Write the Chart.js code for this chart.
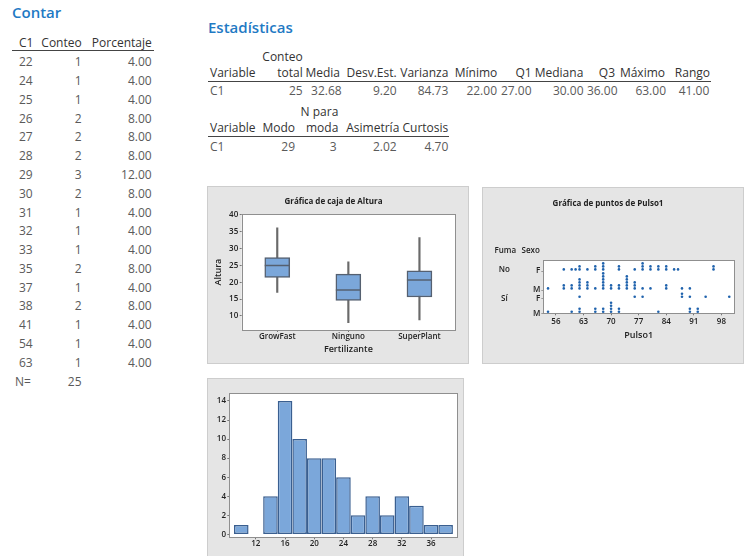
<!DOCTYPE html>
<html lang="es">
<head>
<meta charset="utf-8">
<title>Contar / Estadísticas</title>
<script src="https://cdn.jsdelivr.net/npm/chart.js@4.4.1/dist/chart.umd.min.js"></script>
<style>
  body { margin: 0; width: 744px; height: 556px; overflow: hidden; background: #fff; position: relative; font-family: 'Open Sans', sans-serif; }
  .txt { position: absolute; white-space: nowrap; font-size: 12px; line-height: 16px; color: #5a5a5a; }
  .head { color: #333; }
  .section { position: absolute; white-space: nowrap; font-size: 15px; line-height: 20px; font-weight: 600; color: #1f7ac4; }
  .rule { position: absolute; height: 1px; background: #444; }
  .panel { position: absolute; background: #e5e5e5; box-shadow: inset 0 0 0 1px #cdcdcd; overflow: hidden; }
  .panel canvas { position: absolute; left: 0; top: 0; }
</style>
</head>
<body>

<div class="panel" style="left:207px; top:186px; width:262px; height:178px;">
  <canvas id="boxChart" width="262" height="178"></canvas>
</div>
<div class="panel" style="left:482px; top:187px; width:262px; height:177px;">
  <canvas id="dotChart" width="262" height="177"></canvas>
</div>
<div class="panel" style="left:207px; top:378px; width:257px; height:200px;">
  <canvas id="histChart" width="257" height="200"></canvas>
</div>

<script>
// ---- Contar table ----
const countC1 = ['22', '24', '25', '26', '27', '28', '29', '30', '31', '32', '33', '35', '37', '38', '41', '54', '63'];
const countN = ['1', '1', '1', '2', '2', '2', '3', '2', '1', '1', '1', '2', '1', '2', '1', '1', '1'];
const countPct = ['4.00', '4.00', '4.00', '8.00', '8.00', '8.00', '12.00', '8.00', '4.00', '4.00', '4.00', '8.00', '4.00', '8.00', '4.00', '4.00', '4.00'];
const countTotal = '25';

// ---- Estadísticas ----
const statHead1 = ['Variable', 'total', 'Media', 'Desv.Est.', 'Varianza', 'Mínimo', 'Q1', 'Mediana', 'Q3', 'Máximo', 'Rango'];
const statRow1 = ['C1', '25', '32.68', '9.20', '84.73', '22.00', '27.00', '30.00', '36.00', '63.00', '41.00'];
const statHead2 = ['Variable', 'Modo', 'moda', 'Asimetría', 'Curtosis'];
const statRow2 = ['C1', '29', '3', '2.02', '4.70'];

// ---- Box plot (Altura by Fertilizante) ----
const fertilizers = ['GrowFast', 'Ninguno', 'SuperPlant'];
const whiskerLow = [17.0, 8.0, 8.8];
const q1 = [21.4, 14.6, 15.6];
const medians = [25.0, 17.7, 20.7];
const q3 = [27.3, 22.4, 23.4];
const whiskerHigh = [36.2, 26.1, 33.3];
const boxTicks = [10, 15, 20, 25, 30, 35, 40];

// ---- Dot plot (Pulso1 by Fuma / Sexo) ----
const pulseNoF = [58, 60, 61, 62, 62, 64, 66, 66, 68, 68, 68, 72, 72, 76, 78, 78, 78, 80, 80, 82, 82, 84, 84, 86, 87, 96, 96];
const pulseNoM = [54, 58, 58, 60, 60, 62, 62, 62, 62, 64, 64, 64, 66, 68, 68, 68, 68, 68, 68, 70, 70, 72, 72,
                  74, 74, 74, 74, 74, 76, 76, 76, 78, 80, 84, 84, 88, 90];
const pulseSiF = [62, 76, 78, 88, 88, 90, 94, 100];
const pulseSiM = [54, 60, 62, 62, 66, 66, 68, 68, 70, 70, 70, 70, 72, 72, 82, 90, 90, 92, 92];
const pulseTicks = [56, 63, 70, 77, 84, 91, 98];

// ---- Histogram ----
const histBins = [10, 12, 14, 16, 18, 20, 22, 24, 26, 28, 30, 32, 34, 36, 38];
const histCounts = [1, 0, 4, 14, 10, 8, 8, 6, 2, 4, 2, 4, 3, 1, 1];
const histTicksX = [12, 16, 20, 24, 28, 32, 36];
const histTicksY = [0, 2, 4, 6, 8, 10, 12, 14];

// ---------- text output ----------
function addText(text, x, y, cls, align) {
  const el = document.createElement('div');
  el.className = cls || 'txt';
  el.textContent = text;
  el.style.top = (y - 8) + 'px';
  if (align === 'right') el.style.right = (744 - x) + 'px';
  else el.style.left = x + 'px';
  document.body.appendChild(el);
  return el;
}
function addRule(x1, x2, y) {
  const el = document.createElement('div');
  el.className = 'rule';
  el.style.left = x1 + 'px';
  el.style.width = (x2 - x1) + 'px';
  el.style.top = y + 'px';
  document.body.appendChild(el);
}

const sec1 = addText('Contar', 12, 12.5, 'section');
sec1.style.top = '2px';
addText('C1', 19, 42.5, 'txt head');
addText('Conteo', 81.7, 42.5, 'txt head', 'right');
addText('Porcentaje', 151.7, 42.5, 'txt head', 'right');
addRule(12, 154, 50);
for (let i = 0; i < countC1.length; i++) {
  const y = 62.3 + i * 18.78;
  addText(countC1[i], 19, y);
  addText(countN[i], 81.5, y, 'txt', 'right');
  addText(countPct[i], 151.7, y, 'txt', 'right');
}
addText('N=', 15, 62.3 + countC1.length * 18.78);
addText(countTotal, 81.5, 62.3 + countC1.length * 18.78, 'txt', 'right');

const sec2 = addText('Estadísticas', 208, 27, 'section');
sec2.style.top = '17px';
const headRight1 = [0, 302.7, 340, 396.7, 448.3, 497.3, 531.7, 583.3, 615, 665, 710];
const dataRight1 = [0, 302.7, 341.7, 396.7, 448.3, 497, 531.5, 583.5, 617.5, 666, 709.3];
addText('Conteo', headRight1[1], 56.7, 'txt head', 'right');
for (let i = 0; i < statHead1.length; i++) {
  if (i === 0) {
    addText(statHead1[i], 210, 73.3, 'txt head');
    addText(statRow1[i], 210, 90.7);
  } else {
    addText(statHead1[i], headRight1[i], 73.3, 'txt head', 'right');
    addText(statRow1[i], dataRight1[i], 90.7, 'txt', 'right');
  }
}
addRule(208, 711, 80.5);

const headRight2 = [0, 295, 338.3, 399.3, 448.3];
const dataRight2 = [0, 295, 336.7, 396.7, 448.3];
addText('N para', headRight2[2], 111.7, 'txt head', 'right');
for (let i = 0; i < statHead2.length; i++) {
  if (i === 0) {
    addText(statHead2[i], 210, 128.3, 'txt head');
    addText(statRow2[i], 210, 146.7);
  } else {
    addText(statHead2[i], headRight2[i], 128.3, 'txt head', 'right');
    addText(statRow2[i], dataRight2[i], 146.7, 'txt', 'right');
  }
}
addRule(208, 449, 135.5);

// ---------- charts ----------
Chart.defaults.font.family = "'Open Sans', sans-serif";
Chart.defaults.color = '#222';

const tickFont = {size: 8, weight: '600'};
const titleFont = {size: 8};
const axisTitleFont = {size: 9, weight: '600'};

// white plot area with grey frame
const plotFrame = {
  id: 'plotFrame',
  beforeDatasetsDraw(chart) {
    const {ctx, chartArea: a} = chart;
    ctx.save();
    ctx.fillStyle = '#fff';
    ctx.fillRect(a.left, a.top, a.right - a.left, a.bottom - a.top);
    ctx.restore();
  },
  afterDraw(chart) {
    const {ctx, chartArea: a} = chart;
    ctx.save();
    ctx.strokeStyle = '#8f8f8f';
    ctx.lineWidth = 1;
    ctx.strokeRect(Math.round(a.left) + 0.5, Math.round(a.top) + 0.5,
      Math.round(a.right - a.left), Math.round(a.bottom - a.top));
    ctx.restore();
  }
};

// Box plot
new Chart(document.getElementById('boxChart'), {
  type: 'bar',
  data: {
    labels: fertilizers,
    datasets: [
      {
        type: 'line',
        data: medians,
        showLine: false,
        pointStyle: 'line',
        pointRadius: 12.5,
        pointBorderWidth: 1.5,
        pointBorderColor: '#556070',
        order: 0
      },
      {
        data: fertilizers.map((f, i) => [q1[i], q3[i]]),
        backgroundColor: '#7ba7da',
        borderColor: '#556070',
        borderWidth: 1.5,
        borderSkipped: false,
        barThickness: 25,
        grouped: false,
        order: 1
      },
      {
        data: fertilizers.map((f, i) => [whiskerLow[i], whiskerHigh[i]]),
        backgroundColor: '#6a6a6a',
        barThickness: 1.5,
        grouped: false,
        order: 2
      }
    ]
  },
  options: {
    responsive: false,
    animation: false,
    layout: {padding: {left: 0, right: 9, top: 0, bottom: 0}},
    plugins: {
      legend: {display: false},
      tooltip: {enabled: false},
      title: {display: true, text: 'Gráfica de caja de Altura', font: titleFont, color: '#222', padding: {top: 10.9, bottom: 7.8}}
    },
    scales: {
      x: {
        offset: true,
        grid: {display: true, drawOnChartArea: false, offset: false, tickLength: 2, color: '#777'},
        border: {display: false},
        ticks: {font: tickFont, padding: 0, color: '#222'},
        title: {display: true, text: 'Fertilizante', font: axisTitleFont, color: '#222', padding: {top: 0, bottom: 9.6}},
        afterFit(s) { s.height = 34; }
      },
      y: {
        min: 5.8,
        max: 40.2,
        afterBuildTicks(s) { s.ticks = boxTicks.map(v => ({value: v})); },
        grid: {display: true, drawOnChartArea: false, tickLength: 2, color: '#777'},
        border: {display: false},
        ticks: {font: tickFont, padding: 1.5, color: '#222'},
        title: {display: true, text: 'Altura', font: axisTitleFont, color: '#222', padding: {top: 5.9, bottom: 0}},
        afterFit(s) { s.width = 34.7; }
      }
    }
  },
  plugins: [plotFrame]
});

// Dot plot
const rowBottoms = {noF: 42.3, noM: 23.3, siF: 15, siM: 0};
function stackDots(values, bottom) {
  const seen = {};
  return values.map(v => {
    const k = seen[v] || 0;
    seen[v] = k + 1;
    return {x: v, y: bottom + 1.6 + k * 3};
  });
}
const dotStyle = {pointRadius: 1.3, pointHoverRadius: 1.3, pointBackgroundColor: '#2063ad', pointBorderWidth: 0};
const rowTickValues = [rowBottoms.siM, rowBottoms.siF, rowBottoms.noM, rowBottoms.noF];
const rowTickLabels = ['M', 'F', 'M', 'F'];

const dotLabels = {
  id: 'dotLabels',
  afterDraw(chart) {
    const {ctx, chartArea: a, scales} = chart;
    ctx.save();
    ctx.font = "600 8px 'Open Sans', sans-serif";
    ctx.fillStyle = '#222';
    ctx.textAlign = 'center';
    ctx.textBaseline = 'middle';
    ctx.fillText('Fuma', a.left - 38, a.top - 9);
    ctx.fillText('Sexo', a.left - 12.6, a.top - 9);
    ctx.fillText('No', a.left - 39, scales.y.getPixelForValue(rowBottoms.noF) - 1);
    ctx.fillText('Sí', a.left - 39, scales.y.getPixelForValue(rowBottoms.siF));
    ctx.restore();
  }
};

new Chart(document.getElementById('dotChart'), {
  type: 'scatter',
  data: {
    datasets: [
      Object.assign({data: stackDots(pulseNoF, rowBottoms.noF)}, dotStyle),
      Object.assign({data: stackDots(pulseNoM, rowBottoms.noM)}, dotStyle),
      Object.assign({data: stackDots(pulseSiF, rowBottoms.siF)}, dotStyle),
      Object.assign({data: stackDots(pulseSiM, rowBottoms.siM)}, dotStyle)
    ]
  },
  options: {
    responsive: false,
    animation: false,
    layout: {padding: {left: 0, right: 10, top: 0, bottom: 0}},
    plugins: {
      legend: {display: false},
      tooltip: {enabled: false},
      title: {display: true, text: 'Gráfica de puntos de Pulso1', font: titleFont, color: '#222', padding: {top: 11.5, bottom: 51.9}}
    },
    scales: {
      x: {
        type: 'linear',
        min: 52.8,
        max: 101.2,
        afterBuildTicks(s) { s.ticks = pulseTicks.map(v => ({value: v})); },
        grid: {display: true, drawOnChartArea: false, tickLength: 2, color: '#777'},
        border: {display: false},
        ticks: {font: tickFont, padding: 1.5, color: '#222'},
        title: {display: true, text: 'Pulso1', font: axisTitleFont, color: '#222', padding: {top: 0, bottom: 23.6}},
        afterFit(s) { s.height = 50.7; }
      },
      y: {
        min: 0,
        max: 53.3,
        afterBuildTicks(s) { s.ticks = rowTickValues.map(v => ({value: v})); },
        grid: {display: true, tickLength: 2, color: '#9a9a9a'},
        border: {display: false},
        ticks: {
          font: tickFont, padding: 1, color: '#222', autoSkip: false,
          callback: (v, i) => rowTickLabels[i]
        },
        afterFit(s) { s.width = 61.3; }
      }
    }
  },
  plugins: [plotFrame, dotLabels]
});

// Histogram
new Chart(document.getElementById('histChart'), {
  type: 'bar',
  data: {
    datasets: [{
      data: histBins.map((b, i) => ({x: b, y: histCounts[i]})),
      backgroundColor: '#7ba7da',
      borderColor: '#3a5f90',
      borderWidth: 1.5,
      borderSkipped: false,
      inflateAmount: 0,
      barPercentage: 1,
      categoryPercentage: 1
    }]
  },
  options: {
    responsive: false,
    animation: false,
    layout: {padding: {left: 0, right: 6.7, top: 15.3, bottom: 0}},
    plugins: {legend: {display: false}, tooltip: {enabled: false}},
    scales: {
      x: {
        type: 'linear',
        offset: false,
        min: 8.36,
        max: 39.6,
        afterBuildTicks(s) { s.ticks = histTicksX.map(v => ({value: v})); },
        grid: {display: true, drawOnChartArea: false, offset: false, tickLength: 2, color: '#777'},
        border: {display: false},
        ticks: {font: tickFont, padding: 0, color: '#222'},
        afterFit(s) { s.height = 40.7; }
      },
      y: {
        min: -0.3,
        max: 14.8,
        afterBuildTicks(s) { s.ticks = histTicksY.map(v => ({value: v})); },
        grid: {display: true, drawOnChartArea: false, tickLength: 2, color: '#777'},
        border: {display: false},
        ticks: {font: tickFont, padding: 1.3, color: '#222'},
        afterFit(s) { s.width = 22.3; }
      }
    }
  },
  plugins: [plotFrame]
});
</script>
</body>
</html>
